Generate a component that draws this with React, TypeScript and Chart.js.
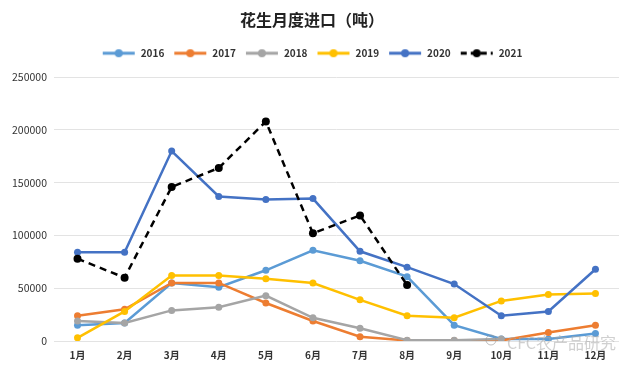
import React, { useEffect, useRef } from "react";
import { Chart, registerables } from "chart.js";

Chart.register(...registerables);

const months = ["1月", "2月", "3月", "4月", "5月", "6月", "7月", "8月", "9月", "10月", "11月", "12月"];
const y2016 = [15000, 17000, 55000, 51000, 67000, 86000, 76000, 61000, 15000, 2000, 2000, 7000];
const y2017 = [24000, 30000, 55000, 55000, 36000, 19000, 4000, 500, 500, 500, 8000, 15000];
const y2018 = [19000, 17000, 29000, 32000, 43000, 22000, 12000, 800, 800, 2000, null, null];
const y2019 = [3000, 28000, 62000, 62000, 59000, 55000, 39000, 24000, 22000, 38000, 44000, 45000];
const y2020 = [84000, 84000, 180000, 137000, 134000, 135000, 85000, 70000, 54000, 24000, 28000, 68000];
const y2021 = [78000, 60000, 146000, 164000, 208000, 102000, 119000, 53000, null, null, null, null];

const seriesNames = ["2016", "2017", "2018", "2019", "2020", "2021"];
const seriesColors = ["#5B9BD5", "#ED7D31", "#A5A5A5", "#FFC000", "#4472C4", "#000000"];
const seriesData = [y2016, y2017, y2018, y2019, y2020, y2021];

const yTicks = [0, 50000, 100000, 150000, 200000, 250000];

function legendImage(color: string, dashed: boolean): HTMLCanvasElement {
  const c = document.createElement("canvas");
  c.width = 34;
  c.height = 10;
  const ctx = c.getContext("2d")!;
  ctx.strokeStyle = color;
  ctx.lineWidth = 3;
  if (dashed) ctx.setLineDash([6, 4]);
  ctx.beginPath();
  ctx.moveTo(1, 5);
  ctx.lineTo(33, 5);
  ctx.stroke();
  ctx.fillStyle = color;
  ctx.beginPath();
  ctx.arc(17, 5, 4, 0, Math.PI * 2);
  ctx.fill();
  return c;
}

const legendMargin = {
  id: "legendMargin",
  beforeInit(chart: any) {
    const legend = chart.legend;
    if (!legend) return;
    const orig = legend.fit;
    legend.fit = function () {
      orig.call(this);
      this.height += 9;
    };
  },
};

const watermark = {
  id: "watermark",
  afterDraw(chart: any) {
    const ctx = chart.ctx;
    ctx.save();
    ctx.font = "16px 'Noto Sans CJK SC', sans-serif";
    ctx.textBaseline = "middle";
    ctx.fillStyle = "rgba(170,170,170,0.55)";
    ctx.fillText("CFC农产品研究", 507, 343);
    ctx.strokeStyle = "rgba(150,150,150,0.6)";
    ctx.lineWidth = 1;
    ctx.beginPath();
    ctx.arc(491, 340, 5, 0, Math.PI * 2);
    ctx.stroke();
    ctx.restore();
  },
};

export default function App() {
  const ref = useRef<HTMLCanvasElement>(null);
  useEffect(() => {
    document.body.style.margin = "0";
    const images = seriesNames.map((_, i) => legendImage(seriesColors[i], i === 5));
    const chart = new Chart(ref.current!, {
      type: "line",
      data: {
        labels: months,
        datasets: seriesNames.map((name, i) => ({
          label: name,
          data: seriesData[i],
          borderColor: seriesColors[i],
          backgroundColor: seriesColors[i],
          borderWidth: 2.5,
          borderDash: i === 5 ? [7, 5] : [],
          pointRadius: i === 5 ? 4 : 3.5,
          pointHoverRadius: 4,
          pointBorderWidth: 0,
          tension: 0,
          order: 6 - i,
        })),
      },
      plugins: [legendMargin, watermark],
      options: {
        animation: false,
        responsive: false,
        maintainAspectRatio: false,
        layout: { padding: { left: 5, right: 15, top: 4, bottom: 11 } },
        plugins: {
          title: {
            display: true,
            text: "花生月度进口（吨）",
            color: "#222",
            font: { family: "'Noto Sans CJK SC', sans-serif", size: 16, weight: "bold" },
            padding: { top: 6, bottom: 10 },
          },
          legend: {
            position: "top",
            labels: {
              usePointStyle: true,
              pointStyleWidth: 34,
              boxHeight: 10,
              padding: 9,
              color: "#333",
              font: { family: "'Noto Sans CJK SC', sans-serif", size: 10, weight: "bold" },
              sort: (a: any, b: any) => a.datasetIndex - b.datasetIndex,
              generateLabels(chart: any) {
                const items = Chart.defaults.plugins.legend.labels.generateLabels(chart);
                return items.map((it: any) => ({ ...it, pointStyle: images[it.datasetIndex], lineWidth: 0 }));
              },
            },
          },
          tooltip: { enabled: false },
        },
        scales: {
          x: {
            offset: true,
            grid: { display: false },
            border: { display: false },
            ticks: {
              color: "#333",
              font: { family: "'Noto Sans CJK SC', sans-serif", size: 10, weight: "bold" },
              padding: 0,
            },
          },
          y: {
            min: 0,
            max: 250000,
            afterBuildTicks(axis: any) {
              axis.ticks = yTicks.map((v) => ({ value: v }));
            },
            grid: { color: "#E3E3E3", lineWidth: 1, drawTicks: false },
            border: { display: false },
            ticks: {
              color: "#333",
              padding: 7,
              font: { family: "'Noto Sans CJK SC', sans-serif", size: 10.5 },
              callback: (v: any) => String(v),
            },
          },
        },
      },
    });
    return () => chart.destroy();
  }, []);
  return (
    <div style={{ width: 634, height: 372, position: "relative", background: "#fff" }}>
      <canvas ref={ref} width={634} height={372} style={{ display: "block" }} />
    </div>
  );
}
